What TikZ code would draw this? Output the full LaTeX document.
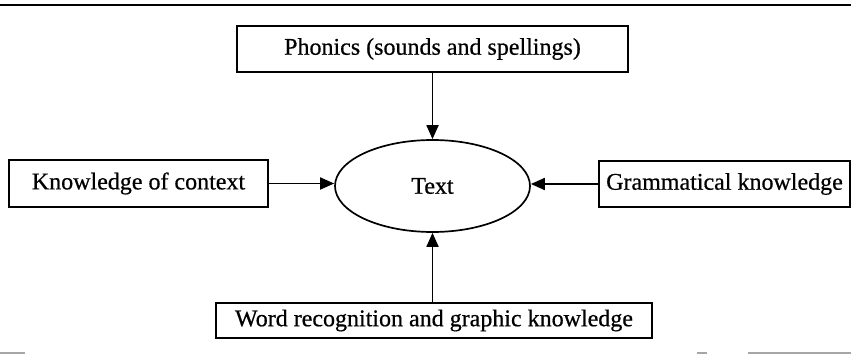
\documentclass[tikz,border=0pt]{standalone}
\usepackage{fontspec}
\setmainfont{Liberation Serif}[FakeBold=0.6]
\usetikzlibrary{arrows.meta,shapes.geometric}
\begin{document}
\begin{tikzpicture}[x=1pt,y=-1pt,
  box/.style={draw=black,line width=1.7pt,rectangle,inner sep=0pt,font=\fontsize{24}{28}\selectfont},
  oval/.style={draw=black,line width=1.7pt,ellipse,inner sep=0pt,font=\fontsize{24}{28}\selectfont},
  arr/.style={line width=1.8pt,-{Triangle[length=14pt,width=12pt]}},
  rule/.style={line width=2.4pt},
  faint/.style={line width=1.5pt,black!35}]
\useasboundingbox (0,0) rectangle (851,363);
\draw[rule] (0,5) coordinate (r1) -- (851,5) coordinate (r2);
\node[box,minimum width=391pt,minimum height=46pt] (phon) at (432.5,49) {Phonics (sounds and spellings)};
\node[box,minimum width=259pt,minimum height=47pt] (know) at (138.5,183.5) {Knowledge of context};
\node[box,minimum width=251pt,minimum height=46pt] (gram) at (724.5,184) {Grammatical knowledge};
\node[box,minimum width=436pt,minimum height=35pt] (word) at (434,320.5) {Word recognition and graphic knowledge};
\node[oval,minimum width=195pt,minimum height=92pt] (txt) at (432.5,186) {Text};
\draw[arr] (phon.south -| txt.north) -- (txt.north);
\draw[arr] (word.north -| txt.south) -- (txt.south);
\draw[arr] (know.east) -- (know.east -| txt.west);
\draw[arr] (gram.west) -- (gram.west -| txt.east);
\draw[faint] (0,353) coordinate (b1) -- (25,353) coordinate (b2);
\draw[faint] (697,353) coordinate (b3) -- (707,353) coordinate (b4);
\draw[faint] (748,353) coordinate (b5) -- (851,353) coordinate (b6);
\end{tikzpicture}
\end{document}
